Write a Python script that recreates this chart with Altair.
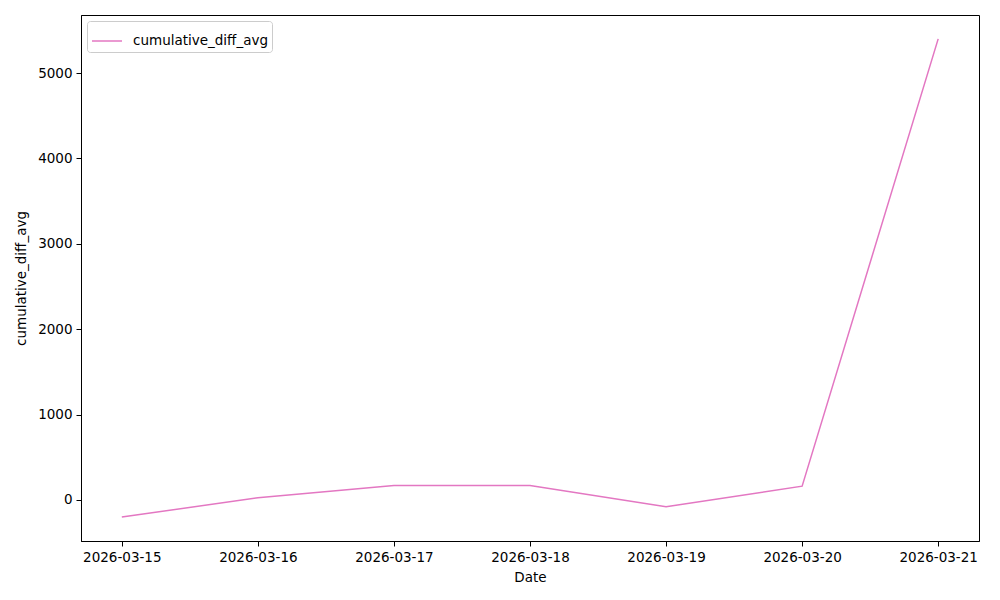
import altair as alt
import pandas as pd

dates = ["2026-03-15", "2026-03-16", "2026-03-17", "2026-03-18", "2026-03-19", "2026-03-20", "2026-03-21"]
values = [-201, 26, 169, 170, -79, 161, 5400]
series = "cumulative_diff_avg"

df = pd.DataFrame({"Date": dates, "value": values, "series": [series] * len(dates)})

font = "DejaVu Sans"
fs = 13.5
x_ticks = [alt.DateTime(year=2026, month=3, date=d, utc=True) for d in range(15, 22)]

chart = alt.Chart(df).mark_line(strokeWidth=1.5).encode(
    x=alt.X("Date:T",
            scale=alt.Scale(type="utc",
                            domain=[alt.DateTime(year=2026, month=3, date=14, hours=16, minutes=48, utc=True),
                                    alt.DateTime(year=2026, month=3, date=21, hours=7, minutes=12, utc=True)]),
            axis=alt.Axis(values=x_ticks, labelExpr="utcFormat(datum.value, '%Y-%m-%d')",
                          title="Date", grid=False)),
    y=alt.Y("value:Q",
            scale=alt.Scale(domain=[-481, 5680], nice=False, zero=False),
            axis=alt.Axis(values=[0, 1000, 2000, 3000, 4000, 5000], format="d",
                          title="cumulative_diff_avg", grid=False)),
    color=alt.Color("series:N", scale=alt.Scale(domain=[series], range=["#e377c2"]),
                    legend=alt.Legend(title=None, orient="top-left", symbolType="stroke",
                                      symbolStrokeWidth=1.5, symbolSize=900, labelOffset=10,
                                      labelFont=font, labelFontSize=fs, labelColor="black",
                                      strokeColor="#cccccc", fillColor="white", padding=4,
                                      cornerRadius=3, offset=6)),
).properties(
    width=898, height=526,
    autosize=alt.AutoSizeParams(type="none"),
    padding={"left": 73, "top": 7, "right": 13, "bottom": 51},
).configure_view(
    stroke="black", strokeWidth=1
).configure_axis(
    domainColor="black", tickColor="black", tickSize=5, labelPadding=4,
    labelFont=font, labelFontSize=fs, labelColor="black",
    titleFont=font, titleFontSize=fs, titleFontWeight="normal", titleColor="black",
).configure_axisX(titlePadding=7).configure_axisY(titlePadding=9)

chart.save("out.html", embed_options={"renderer": "svg", "actions": False})
